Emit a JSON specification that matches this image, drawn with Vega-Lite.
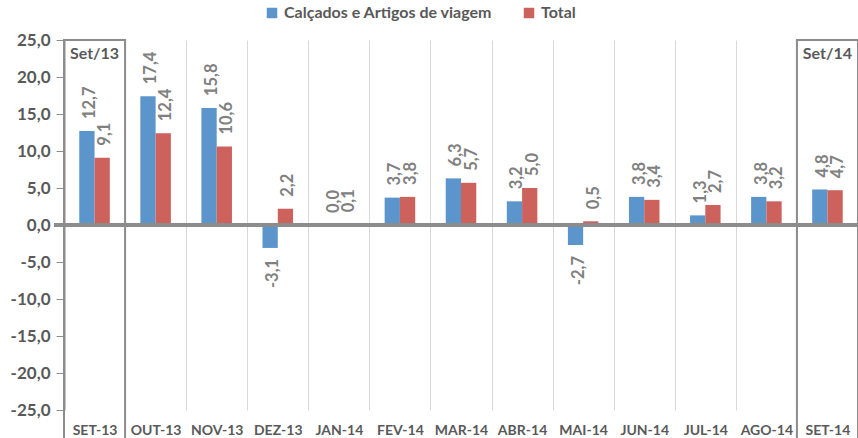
{
  "$schema": "https://vega.github.io/schema/vega-lite/v6.json",
  "width": 794,
  "height": 370,
  "autosize": "none",
  "padding": {"left": 64, "top": 40, "right": 0, "bottom": 28},
  "background": "white",
  "config": {
    "view": {"stroke": null},
    "locale": {"number": {"decimal": ",", "thousands": ".", "grouping": [3], "currency": ["", ""], "minus": "-"}},
    "font": "Lato",
    "axisY": {"labelOverlap": false, "labelFlush": false},
    "axisX": {"labelOverlap": false}
  },
  "datasets": {
    "vals": [
      {"mes": "SET-13", "serie": "Calçados e Artigos de viagem", "valor": 12.7},
      {"mes": "SET-13", "serie": "Total", "valor": 9.1},
      {"mes": "OUT-13", "serie": "Calçados e Artigos de viagem", "valor": 17.4},
      {"mes": "OUT-13", "serie": "Total", "valor": 12.4},
      {"mes": "NOV-13", "serie": "Calçados e Artigos de viagem", "valor": 15.8},
      {"mes": "NOV-13", "serie": "Total", "valor": 10.6},
      {"mes": "DEZ-13", "serie": "Calçados e Artigos de viagem", "valor": -3.1},
      {"mes": "DEZ-13", "serie": "Total", "valor": 2.2},
      {"mes": "JAN-14", "serie": "Calçados e Artigos de viagem", "valor": 0.0},
      {"mes": "JAN-14", "serie": "Total", "valor": 0.1},
      {"mes": "FEV-14", "serie": "Calçados e Artigos de viagem", "valor": 3.7},
      {"mes": "FEV-14", "serie": "Total", "valor": 3.8},
      {"mes": "MAR-14", "serie": "Calçados e Artigos de viagem", "valor": 6.3},
      {"mes": "MAR-14", "serie": "Total", "valor": 5.7},
      {"mes": "ABR-14", "serie": "Calçados e Artigos de viagem", "valor": 3.2},
      {"mes": "ABR-14", "serie": "Total", "valor": 5.0},
      {"mes": "MAI-14", "serie": "Calçados e Artigos de viagem", "valor": -2.7},
      {"mes": "MAI-14", "serie": "Total", "valor": 0.5},
      {"mes": "JUN-14", "serie": "Calçados e Artigos de viagem", "valor": 3.8},
      {"mes": "JUN-14", "serie": "Total", "valor": 3.4},
      {"mes": "JUL-14", "serie": "Calçados e Artigos de viagem", "valor": 1.3},
      {"mes": "JUL-14", "serie": "Total", "valor": 2.7},
      {"mes": "AGO-14", "serie": "Calçados e Artigos de viagem", "valor": 3.8},
      {"mes": "AGO-14", "serie": "Total", "valor": 3.2},
      {"mes": "SET-14", "serie": "Calçados e Artigos de viagem", "valor": 4.8},
      {"mes": "SET-14", "serie": "Total", "valor": 4.7}
    ],
    "boxes": [
      {"mes": "SET-13", "rotulo": "Set/13"},
      {"mes": "SET-14", "rotulo": "Set/14"}
    ]
  },
  "encoding": {
    "x": {
      "field": "mes",
      "type": "nominal",
      "scale": {"domain": ["SET-13","OUT-13","NOV-13","DEZ-13","JAN-14","FEV-14","MAR-14","ABR-14","MAI-14","JUN-14","JUL-14","AGO-14","SET-14"], "paddingInner": 0, "paddingOuter": 0},
      "axis": {
        "title": null, "labelAngle": 0, "domain": false, "ticks": false,
        "grid": true, "tickBand": "extent", "gridColor": "#d9d9d9", "gridWidth": 1,
        "labelFont": "Lato", "labelFontWeight": "bold", "labelFontSize": 14, "labelColor": "#595959",
        "labelPadding": 13, "labelOverlap": false
      }
    }
  },
  "layer": [
    {
      "data": {"name": "vals"},
      "mark": {"type": "bar"},
      "encoding": {
        "xOffset": {"field": "serie", "type": "nominal", "scale": {"domain": ["Calçados e Artigos de viagem", "Total"], "paddingInner": 0, "paddingOuter": 1.03}},
        "y": {
          "field": "valor", "type": "quantitative",
          "scale": {"domain": [-25, 25], "nice": false},
          "axis": {
            "title": null, "values": [-25,-20,-15,-10,-5,0,5,10,15,20,25], "tickCount": 20, "format": ".1f",
            "grid": false, "tickSize": 8, "tickColor": "#8c8c8c", "domainColor": "#8c8c8c", "domainWidth": 2,
            "labelFont": "Lato", "labelFontWeight": "bold", "labelFontSize": 17, "labelColor": "#595959", "labelPadding": 6,
            "labelOverlap": false, "labelFlush": false
          }
        },
        "color": {
          "field": "serie", "type": "nominal",
          "scale": {"domain": ["Calçados e Artigos de viagem", "Total"], "range": ["#5b95cb", "#cd625c"]},
          "legend": {
            "title": null, "orient": "none", "legendX": 200, "legendY": -35, "direction": "horizontal",
            "symbolType": "square", "symbolSize": 110, "symbolStrokeWidth": 0,
            "labelFont": "Lato", "labelFontWeight": "bold", "labelFontSize": 16, "labelColor": "#595959",
            "labelLimit": 0, "columnPadding": 28
          }
        }
      }
    },
    {
      "data": {"name": "vals"},
      "mark": {"type": "rule", "color": "#8c8c8c", "strokeWidth": 3},
      "encoding": {"y": {"datum": 0}, "x": {"value": -10}, "x2": {"value": 794}}
    },
    {
      "data": {"name": "vals"},
      "transform": [{"filter": "datum.valor >= 0"}],
      "mark": {"type": "text", "angle": 270, "align": "left", "baseline": "middle", "dx": 12, "dy": 3, "fontSize": 16.5, "fontWeight": "bold", "color": "#808080", "font": "Lato"},
      "encoding": {
        "xOffset": {"field": "serie", "type": "nominal"},
        "y": {"field": "valor", "type": "quantitative"},
        "text": {"field": "valor", "type": "quantitative", "format": ".1f"}
      }
    },
    {
      "data": {"name": "vals"},
      "transform": [{"filter": "datum.valor < 0"}],
      "mark": {"type": "text", "angle": 270, "align": "right", "baseline": "middle", "dx": -11, "dy": 3, "fontSize": 16.5, "fontWeight": "bold", "color": "#808080", "font": "Lato"},
      "encoding": {
        "xOffset": {"field": "serie", "type": "nominal"},
        "y": {"field": "valor", "type": "quantitative"},
        "text": {"field": "valor", "type": "quantitative", "format": ".1f"}
      }
    },
    {
      "data": {"name": "boxes"},
      "mark": {"type": "rect", "fill": null, "stroke": "#8c8c8c", "strokeWidth": 2, "clip": false},
      "encoding": {"y": {"datum": 25}, "y2": {"datum": -29}}
    },
    {
      "data": {"name": "boxes"},
      "mark": {"type": "text", "align": "center", "baseline": "middle", "dy": 14, "fontSize": 16, "fontWeight": "bold", "color": "#595959", "font": "Lato"},
      "encoding": {"y": {"datum": 25}, "text": {"field": "rotulo"}}
    }
  ]
}
